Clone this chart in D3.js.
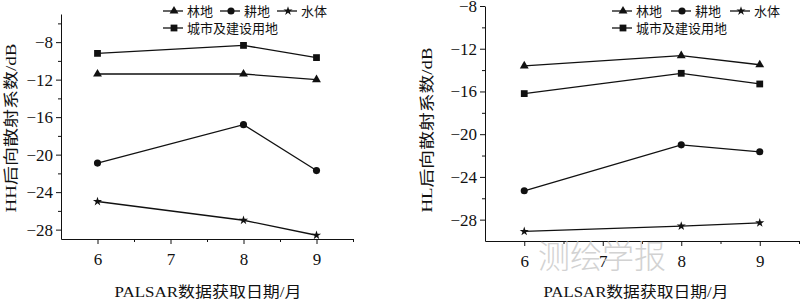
<!DOCTYPE html>
<html>
<head>
<meta charset="utf-8">
<script src="https://cdn.jsdelivr.net/npm/d3@7"></script>
<style>
    body { margin: 0; background: #fff; }
    .axis path, .axis line { stroke: #111; stroke-width: 1; }
    .axis text { fill: #111; }
</style>
</head>
<body>
<div id="chart"></div>
<script>

// months on the x axis
var months = [6, 8, 9];
var monthTicks = [6, 7, 8, 9];
var monthMinor = [6.5, 7.5, 8.5, 9.5];

var seriesNames = ["林地", "耕地", "水体", "城市及建设用地"];

// HH backscatter (dB)
var hhForest = [-11.4, -11.4, -12.0];
var hhFarm = [-20.9, -16.8, -21.7];
var hhWater = [-25.0, -27.0, -28.6];
var hhUrban = [-9.2, -8.35, -9.65];

// HL backscatter (dB)
var hlForest = [-13.6, -12.65, -13.5];
var hlFarm = [-25.3, -21.0, -21.65];
var hlWater = [-29.1, -28.6, -28.3];
var hlUrban = [-16.2, -14.3, -15.3];

var hhTicks = [-8, -12, -16, -20, -24, -28];
var hhMinor = [-6, -10, -14, -18, -22, -26];
var hlTicks = [-8, -12, -16, -20, -24, -28];
var hlMinor = [-10, -14, -18, -22, -26];

var serif = "'Liberation Serif', 'Noto Sans CJK SC', serif";
var cjk = "'Liberation Serif', 'Noto Sans CJK SC', sans-serif";

var symbols = [d3.symbolTriangle, d3.symbolCircle, d3.symbolStar, d3.symbolSquare];
var symbolSizes = [34, 40, 26, 46];

var svg = d3.select("#chart").append("svg")
    .attr("width", 800)
    .attr("height", 302);

/*
 * LinePanel - one of the two backscatter plots
 */
LinePanel = function(_svg, _cfg){
    this.svg = _svg.append("g");
    this.cfg = _cfg;
    this.initVis();
}

LinePanel.prototype.initVis = function(){
    var vis = this;
    var c = vis.cfg;

    vis.x = d3.scaleLinear()
        .domain([5.5, 9.5])
        .range([c.left, c.right]);

    vis.y = d3.scaleLinear()
        .domain(c.yDomain)
        .range([c.bottom, c.top]);

    // minor ticks first
    vis.svg.append("g")
        .attr("class", "axis")
        .attr("transform", "translate(0," + c.bottom + ")")
        .call(d3.axisBottom(vis.x).tickValues(monthMinor).tickSize(3).tickFormat(""))
        .select(".domain").remove();

    vis.svg.append("g")
        .attr("class", "axis")
        .attr("transform", "translate(" + c.left + ",0)")
        .call(d3.axisLeft(vis.y).tickValues(c.minor).tickSize(3).tickFormat(""))
        .select(".domain").remove();

    vis.xAxis = d3.axisBottom(vis.x)
        .tickValues(monthTicks)
        .tickSize(5)
        .tickPadding(9)
        .tickSizeOuter(0)
        .tickFormat(d3.format("d"));

    vis.yAxis = d3.axisLeft(vis.y)
        .tickValues(c.ticks)
        .tickSize(5)
        .tickPadding(3)
        .tickSizeOuter(0)
        .tickFormat(function(d){ return "\u2212" + Math.abs(d); });

    vis.svg.append("g")
        .attr("class", "x-axis axis")
        .attr("transform", "translate(0," + c.bottom + ")")
        .call(vis.xAxis)
        .selectAll("text")
        .style("font-family", serif)
        .style("font-size", "17px");

    vis.svg.append("g")
        .attr("class", "y-axis axis")
        .attr("transform", "translate(" + c.left + ",0)")
        .call(vis.yAxis)
        .selectAll("text")
        .style("font-family", serif)
        .style("font-size", "17px");

    // axis titles
    vis.svg.append("text")
        .attr("x", (c.xTitleX))
        .attr("y", 292)
        .attr("dominant-baseline", "central")
        .attr("text-anchor", "middle")
        .attr("textLength", c.xTitleLen)
        .attr("lengthAdjust", "spacingAndGlyphs")
        .style("font-family", cjk)
        .style("font-size", "15px")
        .style("fill", "#111")
        .text("PALSAR数据获取日期/月");

    vis.svg.append("text")
        .attr("transform", "translate(" + c.yTitleX + "," + c.yTitleY + ") rotate(-90)")
        .attr("dominant-baseline", "central")
        .attr("text-anchor", "middle")
        .attr("textLength", c.yTitleLen)
        .attr("lengthAdjust", "spacingAndGlyphs")
        .style("font-family", cjk)
        .style("font-size", "15px")
        .style("fill", "#111")
        .text(c.yTitle);

    vis.updateVis();
    vis.drawLegend();
}

LinePanel.prototype.updateVis = function(){
    var vis = this;

    var line = d3.line()
        .x(function(d){ return vis.x(d.month); })
        .y(function(d){ return vis.y(d.value); });

    vis.cfg.series.forEach(function(values, i){
        var pts = months.map(function(m, j){ return {month: m, value: values[j]}; });

        vis.svg.append("path")
            .datum(pts)
            .attr("d", line)
            .attr("fill", "none")
            .attr("stroke", "#111")
            .attr("stroke-width", 1.3);

        vis.svg.selectAll(".pt" + i)
            .data(pts)
            .enter()
            .append("path")
            .attr("class", "pt" + i)
            .attr("d", d3.symbol().type(symbols[i]).size(symbolSizes[i]))
            .attr("transform", function(d){
                return "translate(" + vis.x(d.month) + "," + vis.y(d.value) + ")";
            })
            .attr("fill", "#111");
    });
}

LinePanel.prototype.drawLegend = function(){
    var vis = this;
    var c = vis.cfg;

    var pos = [[0, 0], [c.legendStep, 0], [c.legendStep * 2, 0], [0, 17]];

    seriesNames.forEach(function(name, i){
        var lx = c.legendX + pos[i][0];
        var ly = 11 + pos[i][1];

        vis.svg.append("line")
            .attr("x1", lx).attr("x2", lx + 20)
            .attr("y1", ly).attr("y2", ly)
            .attr("stroke", "#111")
            .attr("stroke-width", 1.3);

        vis.svg.append("path")
            .attr("d", d3.symbol().type(symbols[i]).size(symbolSizes[i]))
            .attr("transform", "translate(" + (lx + 11) + "," + ly + ")")
            .attr("fill", "#111");

        vis.svg.append("text")
            .attr("x", lx + 24)
            .attr("y", ly)
            .attr("dominant-baseline", "central")
            .style("font-family", cjk)
            .style("font-size", "13px")
            .style("fill", "#111")
            .text(name);
    });
}

new LinePanel(svg, {
    left: 61, right: 353, top: 14, bottom: 239,
    yDomain: [-29, -5],
    ticks: hhTicks, minor: hhMinor,
    series: [hhForest, hhFarm, hhWater, hhUrban],
    yTitle: "HH后向散射系数/dB", yTitleX: 11, yTitleY: 128, yTitleLen: 169,
    xTitleX: 208, xTitleLen: 187,
    legendX: 163, legendStep: 57
});

new LinePanel(svg, {
    left: 485, right: 799, top: 6, bottom: 241,
    yDomain: [-30, -8],
    ticks: hlTicks, minor: hlMinor,
    series: [hlForest, hlFarm, hlWater, hlUrban],
    yTitle: "HL后向散射系数/dB", yTitleX: 427, yTitleY: 130, yTitleLen: 165,
    xTitleX: 636, xTitleLen: 185,
    legendX: 612, legendStep: 59
});

// journal watermark
svg.append("text")
    .attr("x", 602)
    .attr("y", 254)
    .attr("dominant-baseline", "central")
    .attr("text-anchor", "middle")
    .style("font-family", "'Noto Sans CJK SC', sans-serif")
    .style("font-weight", 300)
    .style("font-size", "32px")
    .style("fill", "#c8c8c8")
    .style("opacity", 0.8)
    .text("测绘学报");

</script>
</body>
</html>
